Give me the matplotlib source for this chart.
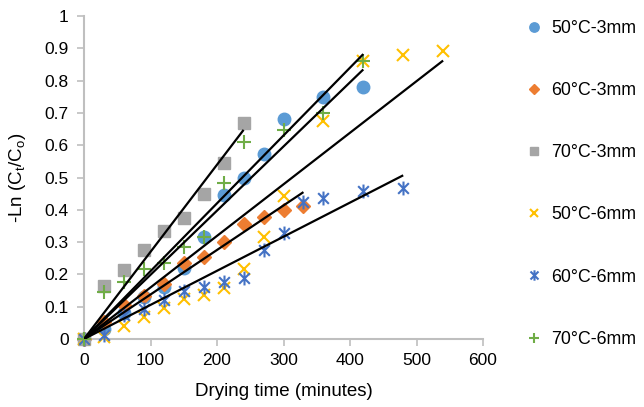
import numpy as np
import matplotlib
matplotlib.use("Agg")
import matplotlib.pyplot as plt
from matplotlib.path import Path

plt.rcParams['font.family'] = ['Liberation Sans', 'DejaVu Sans']

# Data (drying time in minutes, -Ln(Ct/Co))
t_50_3 = [0, 30, 60, 90, 120, 150, 180, 210, 240, 270, 300, 360, 420]
y_50_3 = [0, 0.03, 0.081, 0.131, 0.162, 0.219, 0.315, 0.446, 0.499, 0.574, 0.681, 0.75, 0.779]

t_60_3 = [0, 30, 60, 90, 120, 150, 180, 210, 240, 270, 300, 330]
y_60_3 = [0, 0.054, 0.105, 0.133, 0.17, 0.234, 0.253, 0.301, 0.356, 0.379, 0.399, 0.412]

t_70_3 = [0, 30, 60, 90, 120, 150, 180, 210, 240]
y_70_3 = [0, 0.165, 0.215, 0.275, 0.335, 0.375, 0.45, 0.545, 0.67]

t_50_6 = [0, 30, 60, 90, 120, 150, 180, 210, 240, 270, 300, 360, 420, 480, 540]
y_50_6 = [0, 0.007, 0.04, 0.069, 0.095, 0.123, 0.136, 0.157, 0.217, 0.315, 0.444, 0.675, 0.86, 0.879, 0.893]

t_60_6 = [0, 30, 60, 90, 120, 150, 180, 210, 240, 270, 300, 330, 360, 420, 480]
y_60_6 = [0, 0.012, 0.075, 0.092, 0.121, 0.15, 0.16, 0.177, 0.188, 0.276, 0.327, 0.425, 0.436, 0.458, 0.466]

t_70_6 = [0, 30, 60, 90, 120, 150, 180, 210, 240, 300, 360, 420]
y_70_6 = [0, 0.144, 0.177, 0.216, 0.234, 0.286, 0.315, 0.482, 0.609, 0.647, 0.699, 0.862]

labels = ['50°C-3mm', '60°C-3mm', '70°C-3mm', '50°C-6mm', '60°C-6mm', '70°C-6mm']

# Excel-style star marker: x with a vertical bar
star = Path([(-1, -1), (1, 1), (-1, 1), (1, -1), (0, -1.3), (0, 1.3)],
            [Path.MOVETO, Path.LINETO, Path.MOVETO, Path.LINETO, Path.MOVETO, Path.LINETO])

series = [
    (t_50_3, y_50_3, dict(marker='o', color='#5B9BD5', ms=9, ls='none')),
    (t_60_3, y_60_3, dict(marker='D', color='#ED7D31', ms=6.8, ls='none')),
    (t_70_3, y_70_3, dict(marker='s', color='#A5A5A5', ms=8, ls='none')),
    (t_50_6, y_50_6, dict(marker='x', color='#FFC000', ms=8.5, mew=1.5, ls='none')),
    (t_60_6, y_60_6, dict(marker=star, color='#4472C4', ms=10, mew=1.5, ls='none')),
    (t_70_6, y_70_6, dict(marker='+', color='#70AD47', ms=10, mew=1.5, ls='none')),
]

fig = plt.figure(figsize=(6.44, 4.07), dpi=100)
ax = fig.add_axes([84/644, 1-339/407, (483-84)/644, (339-16)/407])

handles = []
for (t, y, kw), lab in zip(series, labels):
    h, = ax.plot(t, y, label=lab, zorder=3, clip_on=False, **kw)
    handles.append(h)

# Linear trendlines through the origin (least squares), from 0 to the series' last time
for t, y, kw in series:
    t = np.asarray(t, float)
    y = np.asarray(y, float)
    k = np.sum(t * y) / np.sum(t * t)
    xx = np.array([0, t.max()])
    ax.plot(xx, k * xx, color='black', lw=1.6, zorder=4, solid_capstyle='butt')

ax.set_xlim(0, 600)
ax.set_ylim(0, 1)
ax.set_xticks(np.arange(0, 601, 100))
ax.set_yticks(np.arange(0, 1.01, 0.1))
ax.set_yticklabels(['0', '0.1', '0.2', '0.3', '0.4', '0.5', '0.6', '0.7', '0.8', '0.9', '1'])

for s in ['top', 'right']:
    ax.spines[s].set_visible(False)
for s in ['left', 'bottom']:
    ax.spines[s].set_color('#BFBFBF')
    ax.spines[s].set_linewidth(1.5)
ax.tick_params(axis='both', colors='#BFBFBF', labelcolor='black', labelsize=12.5,
               length=5, width=1.2, direction='out')
ax.tick_params(axis='x', pad=5)
ax.tick_params(axis='y', pad=6)

ax.set_xlabel('Drying time (minutes)', fontsize=13.5, labelpad=11)
ax.set_ylabel(r'-Ln (C$_\mathregular{t}$/C$_\mathregular{o}$)', fontsize=13.5, labelpad=12)

fig.legend(handles=handles, labels=labels, loc='upper left',
           bbox_to_anchor=(526/644, 1-20/407), frameon=False, fontsize=12.8,
           labelspacing=2.54, handlelength=0.9, handletextpad=0.5, borderpad=0,
           borderaxespad=0, numpoints=1, markerscale=0.75)

fig.savefig('out.png', dpi=100)
